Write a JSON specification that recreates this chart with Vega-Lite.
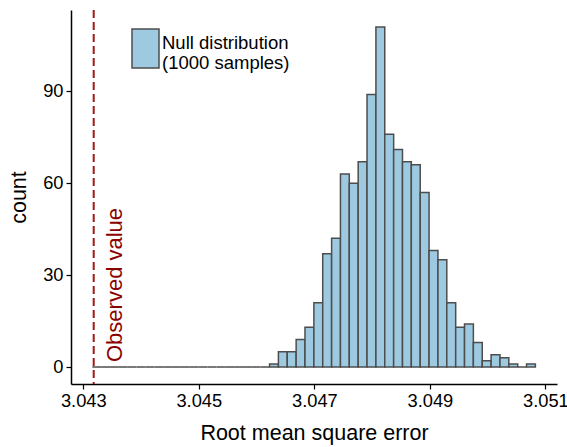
{
  "$schema": "https://vega.github.io/schema/vega-lite/v6.json",
  "width": 486,
  "height": 374,
  "autosize": "none",
  "padding": {"left": 71, "top": 10, "right": 10, "bottom": 63},
  "background": "white",
  "config": {
    "view": {"stroke": null},
    "font": "Liberation Sans",
    "axis": {
      "grid": false,
      "domainColor": "black",
      "domainWidth": 1.5,
      "tickColor": "black",
      "tickWidth": 1.2,
      "tickSize": 5,
      "labelFontSize": 18.3,
      "labelColor": "black",
      "labelPadding": 3,
      "titleFontSize": 21.5,
      "titleFontWeight": "normal",
      "titleColor": "black"
    }
  },
  "datasets": {
    "bins": [
      {"lo": 3.043156, "hi": 3.043309, "count": 0},
      {"lo": 3.043309, "hi": 3.043463, "count": 0},
      {"lo": 3.043463, "hi": 3.043616, "count": 0},
      {"lo": 3.043616, "hi": 3.043770, "count": 0},
      {"lo": 3.043770, "hi": 3.043923, "count": 0},
      {"lo": 3.043923, "hi": 3.044077, "count": 0},
      {"lo": 3.044077, "hi": 3.044230, "count": 0},
      {"lo": 3.044230, "hi": 3.044383, "count": 0},
      {"lo": 3.044383, "hi": 3.044537, "count": 0},
      {"lo": 3.044537, "hi": 3.044690, "count": 0},
      {"lo": 3.044690, "hi": 3.044844, "count": 0},
      {"lo": 3.044844, "hi": 3.044997, "count": 0},
      {"lo": 3.044997, "hi": 3.045151, "count": 0},
      {"lo": 3.045151, "hi": 3.045304, "count": 0},
      {"lo": 3.045304, "hi": 3.045457, "count": 0},
      {"lo": 3.045457, "hi": 3.045611, "count": 0},
      {"lo": 3.045611, "hi": 3.045764, "count": 0},
      {"lo": 3.045764, "hi": 3.045918, "count": 0},
      {"lo": 3.045918, "hi": 3.046071, "count": 0},
      {"lo": 3.046071, "hi": 3.046225, "count": 0},
      {"lo": 3.046225, "hi": 3.046378, "count": 1},
      {"lo": 3.046378, "hi": 3.046531, "count": 5},
      {"lo": 3.046531, "hi": 3.046685, "count": 5},
      {"lo": 3.046685, "hi": 3.046838, "count": 9},
      {"lo": 3.046838, "hi": 3.046992, "count": 13},
      {"lo": 3.046992, "hi": 3.047145, "count": 21},
      {"lo": 3.047145, "hi": 3.047299, "count": 37},
      {"lo": 3.047299, "hi": 3.047452, "count": 42},
      {"lo": 3.047452, "hi": 3.047605, "count": 63},
      {"lo": 3.047605, "hi": 3.047759, "count": 60},
      {"lo": 3.047759, "hi": 3.047912, "count": 67},
      {"lo": 3.047912, "hi": 3.048066, "count": 89},
      {"lo": 3.048066, "hi": 3.048219, "count": 111},
      {"lo": 3.048219, "hi": 3.048373, "count": 76},
      {"lo": 3.048373, "hi": 3.048526, "count": 71},
      {"lo": 3.048526, "hi": 3.048679, "count": 67},
      {"lo": 3.048679, "hi": 3.048833, "count": 66},
      {"lo": 3.048833, "hi": 3.048986, "count": 57},
      {"lo": 3.048986, "hi": 3.049140, "count": 38},
      {"lo": 3.049140, "hi": 3.049293, "count": 35},
      {"lo": 3.049293, "hi": 3.049447, "count": 21},
      {"lo": 3.049447, "hi": 3.049600, "count": 13},
      {"lo": 3.049600, "hi": 3.049753, "count": 14},
      {"lo": 3.049753, "hi": 3.049907, "count": 8},
      {"lo": 3.049907, "hi": 3.050060, "count": 2},
      {"lo": 3.050060, "hi": 3.050214, "count": 4},
      {"lo": 3.050214, "hi": 3.050367, "count": 3},
      {"lo": 3.050367, "hi": 3.050521, "count": 1},
      {"lo": 3.050521, "hi": 3.050674, "count": 0},
      {"lo": 3.050674, "hi": 3.050827, "count": 1}
    ],
    "observed": [
      {"rmse": 3.04318, "label": "Observed value"}
    ]
  },
  "layer": [
    {
      "data": {"name": "bins"},
      "mark": {"type": "bar", "stroke": "#4D4D4D", "strokeWidth": 1.5, "opacity": 1},
      "encoding": {
        "x": {
          "field": "lo",
          "type": "quantitative",
          "title": "Root mean square error",
          "scale": {"domain": [3.042787, 3.051201], "nice": false, "zero": false},
          "axis": {"values": [3.043, 3.045, 3.047, 3.049, 3.051], "format": ".3f", "titlePadding": 13}
        },
        "x2": {"field": "hi"},
        "y": {
          "field": "count",
          "type": "quantitative",
          "title": "count",
          "scale": {"domain": [-5.55, 116.55], "nice": false, "zero": false},
          "axis": {"values": [0, 30, 60, 90], "titlePadding": 12}
        },
        "y2": {"datum": 0},
        "fill": {
          "datum": "Null distribution (1000 samples)",
          "type": "nominal",
          "scale": {"range": ["#9ECAE1"]},
          "legend": {
            "title": null,
            "orient": "none",
            "legendX": 60,
            "legendY": 24,
            "padding": 0,
            "symbolType": "M-1,-1.444H1V1.444H-1Z",
            "symbolSize": 729,
            "symbolStrokeColor": "#4D4D4D",
            "symbolStrokeWidth": 1.5,
            "symbolOpacity": 1,
            "labelFontSize": 18.5,
            "labelColor": "black",
            "labelOffset": 2,
            "labelLimit": 300,
            "labelBaseline": "alphabetic",
            "labelExpr": "['Null distribution', '(1000 samples)']"
          }
        }
      }
    },
    {
      "data": {"name": "observed"},
      "mark": {"type": "rule", "color": "#A01818", "strokeWidth": 2, "strokeDash": [8, 4]},
      "encoding": {
        "x": {"field": "rmse", "type": "quantitative", "title": "Root mean square error"}
      }
    },
    {
      "data": {"name": "observed"},
      "mark": {
        "type": "text",
        "angle": 270,
        "align": "left",
        "baseline": "alphabetic",
        "dx": 5,
        "dy": 28,
        "fontSize": 22,
        "color": "#8B0000"
      },
      "encoding": {
        "x": {"field": "rmse", "type": "quantitative", "title": "Root mean square error"},
        "y": {"datum": 0, "type": "quantitative"},
        "text": {"field": "label"}
      }
    }
  ]
}
